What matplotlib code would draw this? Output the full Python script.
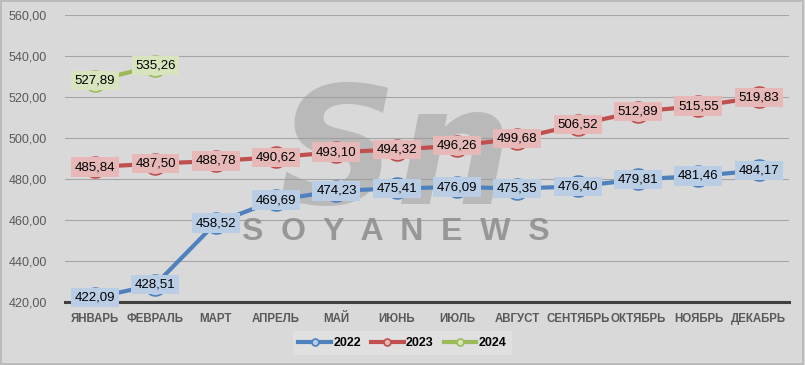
import matplotlib
matplotlib.use('Agg')
import matplotlib.pyplot as plt
from matplotlib.patches import Rectangle

plt.rcParams['font.family'] = ['Liberation Sans', 'DejaVu Sans']

months = ['ЯНВАРЬ', 'ФЕВРАЛЬ', 'МАРТ', 'АПРЕЛЬ', 'МАЙ', 'ИЮНЬ', 'ИЮЛЬ',
          'АВГУСТ', 'СЕНТЯБРЬ', 'ОКТЯБРЬ', 'НОЯБРЬ', 'ДЕКАБРЬ']
v2022 = [422.09, 428.51, 458.52, 469.69, 474.23, 475.41, 476.09,
         475.35, 476.40, 479.81, 481.46, 484.17]
v2023 = [485.84, 487.50, 488.78, 490.62, 493.10, 494.32, 496.26,
         499.68, 506.52, 512.89, 515.55, 519.83]
v2024 = [527.89, 535.26]
yticks = [420, 440, 460, 480, 500, 520, 540, 560]

series = [
    ('2022', v2022, '#4f81bd', '#b9cde5'),
    ('2023', v2023, '#c0504d', '#e6b9b8'),
    ('2024', v2024, '#9bbb59', '#d7e4bd'),
]

bg = '#d9d9d9'
fig = plt.figure(figsize=(8.05, 3.65), dpi=100, facecolor=bg)
ax = fig.add_axes([0.0807, 0.1726, 0.8993, 0.7864])
ax.set_facecolor(bg)

# watermark
ax.text(0.457, 0.50, 'Sn', transform=ax.transAxes, fontsize=118, fontweight='bold',
        fontstyle='italic', family='DejaVu Sans', color='#9a9a9a', alpha=0.5,
        ha='center', va='center', zorder=1)
ax.text(0.457, 0.245, 'S  O  Y  A  N  E  W  S', transform=ax.transAxes,
        fontsize=23, fontweight='bold', color='#8c8c8c', alpha=0.85,
        ha='center', va='center', zorder=1)

x = list(range(len(months)))
for name, vals, col, light in series:
    xs = x[:len(vals)]
    ax.plot(xs, vals, color=col, lw=3, marker='o', ms=15, mfc=light,
            mec=col, mew=1.2, label=name, zorder=3)
    for xi, v in zip(xs, vals):
        ax.text(xi, v, f'{v:.2f}'.replace('.', ','), ha='center', va='center',
                fontsize=9.5, color='black', zorder=4,
                bbox=dict(boxstyle='square,pad=0.28', fc=light, ec='none'))

ax.set_xlim(-0.5, len(months) - 0.5)
ax.set_ylim(420, 560)
ax.set_yticks(yticks)
ax.set_yticklabels([f'{t:.2f}'.replace('.', ',') for t in yticks], fontsize=9)
ax.set_xticks(x)
ax.set_xticklabels(months, fontweight='bold', fontsize=8.3)
ax.tick_params(axis='both', length=0, colors='#595959')
ax.tick_params(axis='x', pad=8)
ax.tick_params(axis='y', pad=13)
ax.grid(axis='y', color='#a6a6a6', lw=0.8, zorder=0)
ax.set_axisbelow(True)
for s in ['top', 'right', 'left']:
    ax.spines[s].set_visible(False)
ax.spines['bottom'].set_color('#404040')
ax.spines['bottom'].set_linewidth(2.2)

leg = fig.legend(loc='center', bbox_to_anchor=(0.5, 0.06), ncol=3,
                 frameon=True, fontsize=9, handlelength=2.6, columnspacing=0.8,
                 handletextpad=0.2, borderpad=0.45, fancybox=False)
for h in leg.legend_handles:
    h.set_markersize(5)
leg.get_frame().set_facecolor('#e3e3e3')
leg.get_frame().set_edgecolor('none')
for t in leg.get_texts():
    t.set_fontweight('bold')

fig.patches.append(Rectangle((0.001, 0.002), 0.997, 0.995, transform=fig.transFigure,
                             fill=False, ec='#b5b5b5', lw=1.2))

fig.savefig('out.png', dpi=100, facecolor=bg)
